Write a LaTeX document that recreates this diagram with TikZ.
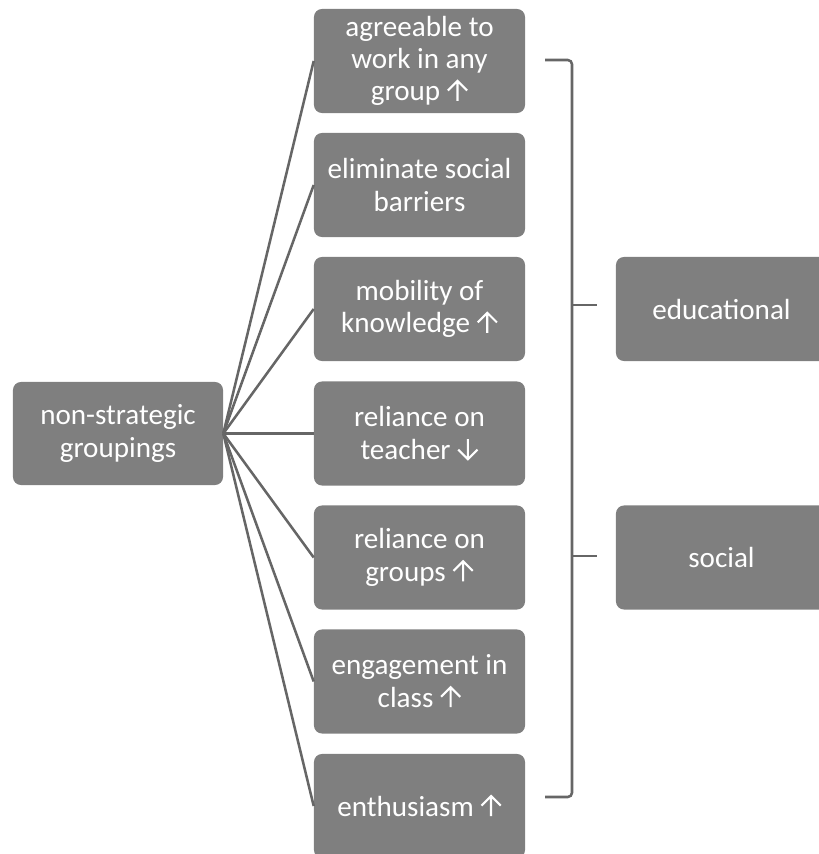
\documentclass[tikz,border=0pt]{standalone}
\usepackage{fontspec}
\setmainfont{Carlito}
\newcommand{\arrup}{\tikz[x=1cm,y=1cm,baseline=0pt]\draw[white,sharp corners,line width=1.5pt] (0,0) -- (0,0.5) (-0.24,0.26) -- (0,0.5) -- (0.24,0.26);}
\newcommand{\arrdown}{\tikz[x=1cm,y=1cm,baseline=0pt]\draw[white,sharp corners,line width=1.5pt] (0,0.5) -- (0,0) (-0.24,0.24) -- (0,0) -- (0.24,0.24);}
\definecolor{boxgray}{HTML}{7F7F7F}
\definecolor{linegray}{HTML}{666666}
\tikzset{
  box/.style={fill=boxgray, rounded corners=0.2cm, text=white, align=center,
    minimum width=5.275cm, minimum height=2.6cm, inner sep=0pt,
    font=\fontsize{20.7}{23}\selectfont},
  link/.style={draw=linegray, line width=1.8pt}
}
\begin{document}
\begin{tikzpicture}[x=0.025cm, y=-0.025cm]
\useasboundingbox (0,0) rectangle (818,854);
\node[box, minimum width=5.25cm, minimum height=2.575cm] (root) at (118,433.5) {non-strategic\\groupings};
\node[box] (g0) at (419.5,61) {agreeable to\\work in any\\group \arrup};
\node[box] (g1) at (419.5,185) {eliminate social\\barriers};
\node[box] (g2) at (419.5,309) {mobility of\\knowledge \arrup};
\node[box] (g3) at (419.5,433.5) {reliance on\\teacher \arrdown};
\node[box] (g4) at (419.5,557.5) {reliance on\\groups \arrup};
\node[box] (g5) at (419.5,681.5) {engagement in\\class \arrup};
\node[box] (g6) at (419.5,806) {enthusiasm \arrup};
\node[box] (edu) at (721.5,309) {educational};
\node[box] (soc) at (721.5,557.5) {social};
\draw[link] (root.east) -- (g0.west);
\draw[link] (root.east) -- (g1.west);
\draw[link] (root.east) -- (g2.west);
\draw[link] (root.east) -- (g3.west);
\draw[link] (root.east) -- (g4.west);
\draw[link] (root.east) -- (g5.west);
\draw[link] (root.east) -- (g6.west);
% bracket
\coordinate (btop) at (545,60);
\coordinate (bbot) at (545,797);
\coordinate (tedu) at (597,305);
\coordinate (tsoc) at (597,556);
\draw[link, rounded corners=3pt] (btop) -- (572,60) -- (572,797) -- (bbot);
\draw[link] (572,305) -- (tedu);
\draw[link] (572,556) -- (tsoc);
\end{tikzpicture}
\end{document}
